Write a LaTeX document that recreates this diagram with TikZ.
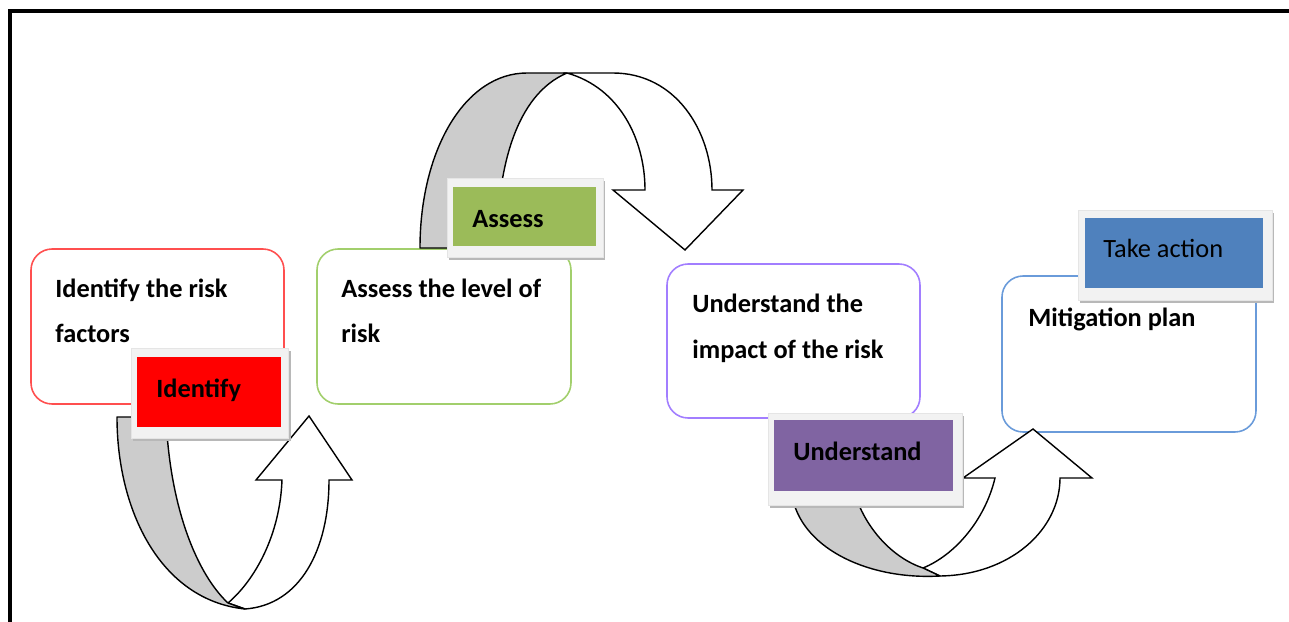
\documentclass[tikz,border=0pt]{standalone}
\usepackage{fontspec}
\setmainfont{Carlito}
\definecolor{idred}{HTML}{FF0000}
\definecolor{asgreen}{HTML}{9BBB59}
\definecolor{unpurple}{HTML}{8064A2}
\definecolor{tkblue}{HTML}{4F81BD}
\definecolor{redline}{HTML}{FF4F4F}
\definecolor{greenline}{HTML}{A2CF6C}
\definecolor{purpleline}{HTML}{A27EFF}
\definecolor{blueline}{HTML}{6A9BDA}
\tikzset{
  stepbox/.style={rounded corners=12pt, line width=0.9pt, fill=white},
  tagshadow/.style={fill=black!28},
  tagframe/.style={draw=black!10, fill=black!5, line width=0.5pt},
  arrowback/.style={draw=black, line width=0.8pt, fill=black!20, line join=round},
  arrowfront/.style={draw=black, line width=0.8pt, fill=white, line join=miter},
  steptext/.style={anchor=base west, inner sep=0pt, font=\fontsize{15}{18}\selectfont\bfseries},
}

\begin{document}
\begin{tikzpicture}[x=0.02cm, y=-0.02cm]
		%%%%% START %%%%%
		\useasboundingbox (0,0) rectangle (1289,622);
		
		% frame
		\draw[line width=2pt] (10,622) -- (10,11) -- (1289,11);
		
		% step boxes
		\draw[stepbox, draw=redline] (31,249) rectangle (284,404);
		\draw[stepbox, draw=greenline] (317,249) rectangle (571,404);
		\draw[stepbox, draw=purpleline] (667,264) rectangle (920,418);
		\draw[stepbox, draw=blueline] (1002,276) rectangle (1256,432);
		
		% arrow identify -> assess
		\draw[arrowfront] (245,609) .. controls (300,605) and (329,550) .. (329,480) -- (352,480) -- (309,416) -- (256,480) -- (282,480) .. controls (280,535) and (255,580) .. (228,603) -- cycle;
		\draw[arrowback] (117,417) -- (166,417) .. controls (170,510) and (198,575) .. (228,603) -- (245,609) .. controls (160,600) and (117,510) .. (117,417) -- cycle;
		
		% arrow assess -> understand
		\draw[arrowfront] (567,73) -- (613,73) .. controls (675,73) and (712,130) .. (712,190) -- (743,190) -- (685,250) -- (613,190) -- (645,190) .. controls (645,140) and (620,88) .. (567,73) -- cycle;
		\draw[arrowback] (420,248) .. controls (420,150) and (465,73) .. (527,73) -- (567,73) .. controls (515,95) and (497,170) .. (497,248) -- cycle;
		
		% arrow understand -> take action
		\draw[arrowfront] (940,576) .. controls (1010,575) and (1060,530) .. (1060,478) -- (1092,478) -- (1033,429) -- (963,478) -- (995,478) .. controls (985,520) and (955,555) .. (923,568) -- cycle;
		\draw[arrowback] (793,500) -- (857,500) .. controls (868,530) and (893,558) .. (923,568) -- (940,576) .. controls (870,580) and (805,550) .. (793,500) -- cycle;
		
		% tags
		\fill[tagshadow] (133,351) rectangle (291,441);
		\draw[tagframe] (131,348) rectangle (288,438);
		\fill[idred] (137,357) rectangle (281,427);
		
		\fill[tagshadow] (449,181) rectangle (605,260);
		\draw[tagframe] (447,178) rectangle (603,257);
		\fill[asgreen] (453,187) rectangle (596,246);
		
		\fill[tagshadow] (770,416) rectangle (964,508);
		\draw[tagframe] (768,413) rectangle (962,505);
		\fill[unpurple] (774,420) rectangle (953,491);
		
		\fill[tagshadow] (1080,213) rectangle (1274,303);
		\draw[tagframe] (1078,210) rectangle (1272,300);
		\fill[tkblue] (1085,218) rectangle (1263,288);
		
		% texts
		\node[steptext] (identa) at (55,297) {Identify the risk};
		\node[steptext] (identb) at (55,342) {factors};
		\node[steptext] (assessa) at (341,297) {Assess the level of};
		\node[steptext] (assessb) at (341,342) {risk};
		\node[steptext] (undera) at (692,312) {Understand the};
		\node[steptext] (underb) at (692,358) {impact of the risk};
		\node[steptext] (mitig) at (1028,326) {Mitigation plan};
		
		\node[steptext] (identify) at (156,397) {Identify};
		\node[steptext] (assess) at (472,227) {Assess};
		\node[steptext] (understand) at (793,460) {Understand};
		\node[steptext, font=\fontsize{15}{18}\selectfont] (takeaction) at (1103,257) {Take action};
		%%%%% END %%%%%
\end{tikzpicture}
\end{document}
